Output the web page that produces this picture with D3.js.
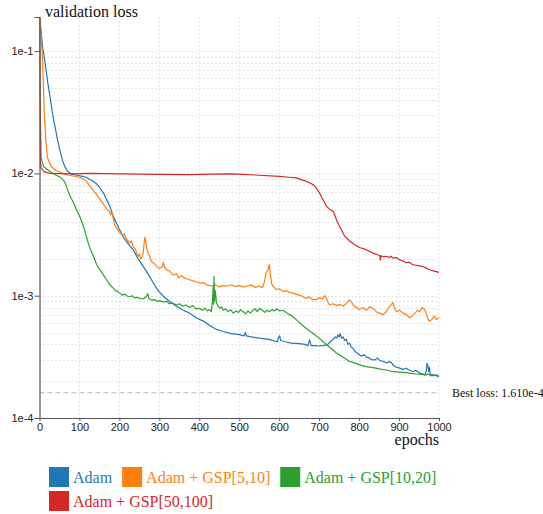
<!DOCTYPE html>
<html><head><meta charset="utf-8">
<script src="https://cdn.jsdelivr.net/npm/d3@7"></script>
<style>
body{margin:0;background:#fff;}
svg{display:block;}
</style></head>
<body>
<svg id="chart" width="543" height="514"></svg>
<script>
const seriesNames = ["Adam", "Adam + GSP[5,10]", "Adam + GSP[10,20]", "Adam + GSP[50,100]"];
const seriesColors = ["#1f77b4", "#ff7f0e", "#2ca02c", "#d62728"];
const xTickValues = [0,100,200,300,400,500,600,700,800,900,1000];
const yTickValues = [1e-4, 1e-3, 1e-2, 1e-1];
const yTickLabels = ["1e-4", "1e-3", "1e-2", "1e-1"];
const bestLoss = 1.610e-4;
const bestLossLabel = "Best loss: 1.610e-4";
const xLabel = "epochs";
const yLabel = "validation loss";

const adam = [[0,0.19],[1,0.182],[8,0.107],[14,0.08],[20,0.057],[27,0.041],[33,0.0303],[40,0.023],[46,0.0183],[52,0.015],[58,0.0126],[64,0.0113],[70,0.0104],[80,0.0099],[91,0.0097],[105,0.0095],[116,0.0093],[126,0.0089],[137,0.0085],[145,0.0081],[151,0.0076],[160,0.0069],[166,0.0063],[176,0.0054],[183,0.0046],[193,0.0039],[200,0.0035],[209,0.00305],[220,0.0027],[234,0.00238],[247,0.0020],[260,0.00173],[272,0.0015],[285,0.00127],[297,0.0011],[310,0.00099],[325,0.0009],[343,0.00082],[360,0.00076],[376,0.00072],[392,0.00066],[410,0.00062],[426,0.00057],[443,0.00053],[460,0.00051],[480,0.00049],[500,0.00048],[512,0.00047],[515,0.0005],[518,0.00047],[530,0.00046],[550,0.00045],[575,0.00044],[595,0.00042],[598,0.00045],[601,0.00047],[604,0.00043],[615,0.00042],[630,0.00041],[650,0.000405],[665,0.0004],[672,0.00039],[676,0.000435],[680,0.00039],[690,0.00039],[700,0.000388],[710,0.00039],[720,0.000396],[728,0.00042],[735,0.00044],[740,0.00046],[744,0.00045],[747,0.00048],[750,0.00046],[753,0.00049],[756,0.00045],[760,0.00046],[764,0.00043],[768,0.00044],[772,0.0004],[776,0.00041],[780,0.00038],[785,0.00037],[790,0.00035],[795,0.00034],[800,0.00033],[806,0.00032],[812,0.00033],[818,0.000315],[825,0.00031],[832,0.0003],[840,0.000298],[846,0.00031],[852,0.000295],[860,0.00029],[870,0.000282],[876,0.00029],[880,0.000285],[886,0.00027],[893,0.00026],[900,0.000257],[910,0.00025],[918,0.000255],[925,0.000247],[935,0.00024],[942,0.000245],[950,0.000234],[958,0.00023],[965,0.000225],[968,0.00024],[970,0.00028],[972,0.00027],[974,0.00024],[976,0.00026],[978,0.000228],[984,0.000226],[990,0.000222],[995,0.000224],[1000,0.000219]];

const gsp5_10 = [[0,0.19],[1,0.182],[6,0.107],[9.5,0.057],[12,0.0303],[16,0.0183],[20,0.0134],[29,0.0114],[41,0.01055],[66,0.0098],[100,0.0093],[115,0.0088],[126,0.0079],[143,0.0067],[160,0.0056],[168,0.0051],[175,0.0049],[178,0.0046],[181,0.0048],[185,0.0042],[189,0.0037],[195,0.0035],[201,0.0033],[208,0.0031],[212,0.0032],[218,0.0029],[225,0.0027],[230,0.0028],[235,0.0025],[240,0.0024],[244,0.0022],[247,0.0021],[250,0.0022],[253,0.0020],[256,0.00205],[259,0.0022],[262,0.0027],[264,0.0030],[266,0.0028],[268,0.0025],[272,0.0022],[276,0.0021],[280,0.0019],[285,0.00185],[290,0.0018],[295,0.0017],[301,0.00168],[306,0.0017],[310,0.00187],[313,0.0017],[318,0.00163],[325,0.0016],[332,0.0015],[338,0.00148],[343,0.00152],[348,0.0014],[355,0.00146],[362,0.0014],[370,0.00137],[376,0.00135],[385,0.00132],[392,0.0013],[401,0.00127],[410,0.00128],[420,0.00122],[430,0.0012],[440,0.00123],[450,0.00118],[460,0.00121],[470,0.0012],[480,0.00123],[490,0.00119],[500,0.00121],[510,0.00118],[520,0.0012],[530,0.00122],[540,0.00117],[550,0.0012],[558,0.00116],[563,0.0013],[567,0.00154],[571,0.0016],[575,0.0018],[578,0.0015],[581,0.00125],[586,0.00118],[593,0.00112],[600,0.00114],[610,0.00108],[618,0.0011],[626,0.00106],[635,0.00105],[645,0.00102],[655,0.001],[662,0.00097],[668,0.00095],[675,0.00098],[683,0.00093],[693,0.00093],[700,0.00096],[708,0.00094],[714,0.001],[718,0.00096],[722,0.00088],[726,0.00084],[735,0.00086],[743,0.00083],[751,0.00085],[760,0.00082],[768,0.00087],[775,0.00092],[780,0.0009],[785,0.00084],[793,0.0008],[801,0.00077],[810,0.0008],[818,0.00076],[826,0.00081],[835,0.00079],[843,0.00074],[851,0.00072],[860,0.0007],[868,0.00074],[874,0.0008],[880,0.00084],[884,0.00088],[888,0.0008],[894,0.00074],[901,0.00076],[910,0.00072],[918,0.0007],[926,0.00066],[932,0.00068],[940,0.00072],[946,0.00076],[951,0.00074],[958,0.0008],[964,0.00077],[968,0.00072],[972,0.00065],[976,0.00062],[982,0.00064],[988,0.00068],[994,0.00064],[1000,0.00066]];

const gsp10_20 = [[0,0.19],[1,0.05],[3,0.02],[4,0.0134],[10,0.0114],[25,0.0104],[41,0.0097],[54,0.0092],[60,0.0088],[66,0.0081],[72,0.0071],[79,0.0063],[86,0.0057],[92,0.0051],[100,0.0045],[110,0.0037],[118,0.0030],[126,0.00245],[135,0.0021],[143,0.0018],[150,0.00165],[160,0.00148],[168,0.00135],[176,0.00123],[184,0.00116],[190,0.0011],[196,0.00108],[201,0.00105],[208,0.00101],[214,0.00103],[220,0.00099],[226,0.00098],[232,0.001],[238,0.00096],[244,0.00097],[251,0.00095],[258,0.00094],[264,0.00096],[268,0.00099],[271,0.00104],[274,0.00095],[280,0.00092],[288,0.00093],[295,0.0009],[302,0.00091],[310,0.00089],[318,0.0009],[325,0.00086],[333,0.00087],[343,0.00084],[350,0.00086],[358,0.00082],[366,0.00084],[376,0.0008],[384,0.00083],[392,0.00078],[401,0.00079],[408,0.00076],[415,0.00079],[420,0.00075],[426,0.00077],[430,0.00074],[433,0.0009],[435,0.0012],[436,0.00085],[437,0.00144],[438,0.0009],[440,0.0011],[443,0.00087],[447,0.00082],[452,0.00079],[456,0.00081],[460,0.00076],[466,0.00078],[472,0.00074],[478,0.00077],[485,0.00072],[492,0.00075],[498,0.00073],[504,0.00077],[510,0.00074],[516,0.00071],[522,0.00075],[528,0.00072],[534,0.00076],[540,0.00078],[545,0.00074],[551,0.00079],[558,0.00076],[564,0.00073],[570,0.00076],[576,0.00074],[582,0.00077],[588,0.00075],[594,0.00078],[601,0.00075],[608,0.00076],[615,0.00074],[622,0.00071],[630,0.00069],[640,0.00065],[651,0.0006],[665,0.00055],[675,0.00052],[685,0.00049],[700,0.00045],[710,0.00042],[718,0.0004],[730,0.00037],[743,0.00034],[751,0.000328],[763,0.00031],[776,0.00029],[785,0.000285],[800,0.000273],[818,0.000263],[835,0.000258],[850,0.000252],[868,0.000247],[885,0.000239],[900,0.000237],[918,0.000235],[930,0.000232],[943,0.000229],[955,0.000227],[968,0.000225],[975,0.00023],[978,0.000222],[985,0.000222],[990,0.000226],[995,0.00022],[1000,0.000218]];

const gsp50_100 = [[0,0.19],[1,0.05],[2,0.0126],[4,0.0111],[12,0.0103],[25,0.01002],[75,0.0099],[126,0.0100],[200,0.0099],[300,0.0098],[376,0.00977],[430,0.00985],[483,0.0099],[540,0.0097],[601,0.00946],[625,0.0093],[643,0.0092],[655,0.0089],[668,0.0086],[678,0.0083],[685,0.0081],[693,0.0076],[700,0.0070],[705,0.0065],[712,0.0059],[718,0.0054],[726,0.0051],[735,0.0049],[740,0.0045],[743,0.0042],[749,0.0038],[755,0.0035],[763,0.0031],[776,0.0028],[790,0.0026],[801,0.00248],[815,0.0024],[835,0.00223],[848,0.00215],[852,0.00212],[853,0.00195],[855,0.00212],[860,0.00209],[868,0.0021],[875,0.00205],[880,0.0021],[885,0.00203],[893,0.00205],[901,0.00197],[910,0.00192],[918,0.00186],[925,0.00188],[935,0.00179],[948,0.00176],[960,0.00173],[968,0.00168],[976,0.00163],[988,0.00159],[1000,0.00155]];

const seriesData = [adam, gsp5_10, gsp10_20, gsp50_100];

const svg = d3.select("#chart");
const margin = {left: 39.5, top: 17, right: 104, bottom: 96};
const W = 543, H = 514;
const x0 = margin.left, x1 = W - margin.right, y0 = H - margin.bottom, y1 = margin.top;

const yMax = d3.max(seriesData.flat(), d => d[1]);
const x = d3.scaleLinear().domain([0, 1000]).range([x0, x1]);
const y = d3.scaleLog().domain([1e-4, yMax]).range([y0, y1]);

const serif = "'Liberation Serif','Times New Roman',serif";
const sans = "'Liberation Sans',Arial,sans-serif";

// grid
const grid = svg.append("g").attr("stroke", "#d9d9d9").attr("stroke-width", 1).attr("stroke-dasharray", "1.5,2.5");
grid.selectAll("line.h").data(y.ticks().filter(v => v > 1e-4 * 1.01))
  .join("line").attr("class","h")
  .attr("x1", x0).attr("x2", x1).attr("y1", d => Math.round(y(d)) + 0.5).attr("y2", d => Math.round(y(d)) + 0.5);
grid.selectAll("line.v").data(xTickValues.filter(v => v > 0))
  .join("line").attr("class","v")
  .attr("x1", d => x(d)).attr("x2", d => x(d)).attr("y1", y1).attr("y2", y0);

// best loss line
svg.append("line")
  .attr("x1", x0).attr("x2", x1).attr("y1", y(bestLoss)).attr("y2", y(bestLoss))
  .attr("stroke", "#c8c8c8").attr("stroke-width", 1.2).attr("stroke-dasharray", "5,3");
svg.append("text").attr("x", x1 + 13).attr("y", y(bestLoss)).attr("dy", "0.35em")
  .attr("font-family", serif).attr("font-size", 12).attr("fill", "#111").text(bestLossLabel);

// clip
svg.append("clipPath").attr("id", "clip").append("rect")
  .attr("x", x0).attr("y", y1 - 2).attr("width", x1 - x0 + 2).attr("height", y0 - y1 + 2);

const line = d3.line().x(d => x(d[0])).y(d => y(d[1]));
svg.append("g").attr("clip-path", "url(#clip)")
  .selectAll("path").data(seriesData).join("path")
  .attr("d", line).attr("fill", "none")
  .attr("stroke", (d, i) => seriesColors[i]).attr("stroke-width", 1.2)
  .attr("stroke-linejoin", "round");

// axes
const yAxis = d3.axisLeft(y).tickValues(yTickValues).tickFormat((d, i) => yTickLabels[i])
  .tickSize(5).tickSizeOuter(5).tickPadding(1);
const gy = svg.append("g").attr("transform", `translate(${x0},0)`).call(yAxis);
const xAxis = d3.axisBottom(x).tickValues(xTickValues).tickFormat(d3.format("d"))
  .tickSize(3).tickSizeOuter(0).tickPadding(2);
const gx = svg.append("g").attr("transform", `translate(0,${y0})`).call(xAxis);
[gx, gy].forEach(g => {
  g.select(".domain").attr("stroke", "#555").attr("stroke-width", 1.2);
  g.selectAll(".tick line").attr("stroke", "#555");
  g.selectAll(".tick text").attr("font-family", sans).attr("font-size", 11).attr("fill", "#222");
});

svg.append("text").attr("x", x1).attr("y", 445).attr("text-anchor", "end")
  .attr("font-family", serif).attr("font-size", 16).attr("fill", "#111").text(xLabel);
svg.append("text").attr("x", 45).attr("y", 17).attr("font-family", serif)
  .attr("font-size", 16).attr("fill", "#111").text(yLabel);

// legend (flow layout)
const legend = svg.append("g");
let lx = 49, ly = 467;
const maxX = 450, rowH = 24, gap = 10;
seriesNames.forEach((name, i) => {
  const g = legend.append("g");
  const t = g.append("text").attr("x", 24).attr("y", 16).attr("font-family", serif)
    .attr("font-size", 16).attr("fill", seriesColors[i]).text(name);
  const w = 24 + t.node().getComputedTextLength();
  if (lx + w > maxX) { lx = 49; ly += rowH; }
  g.attr("transform", `translate(${lx},${ly})`);
  g.insert("rect", "text").attr("width", 20).attr("height", 20).attr("fill", seriesColors[i]);
  lx += w + gap;
});
</script>
</body></html>
